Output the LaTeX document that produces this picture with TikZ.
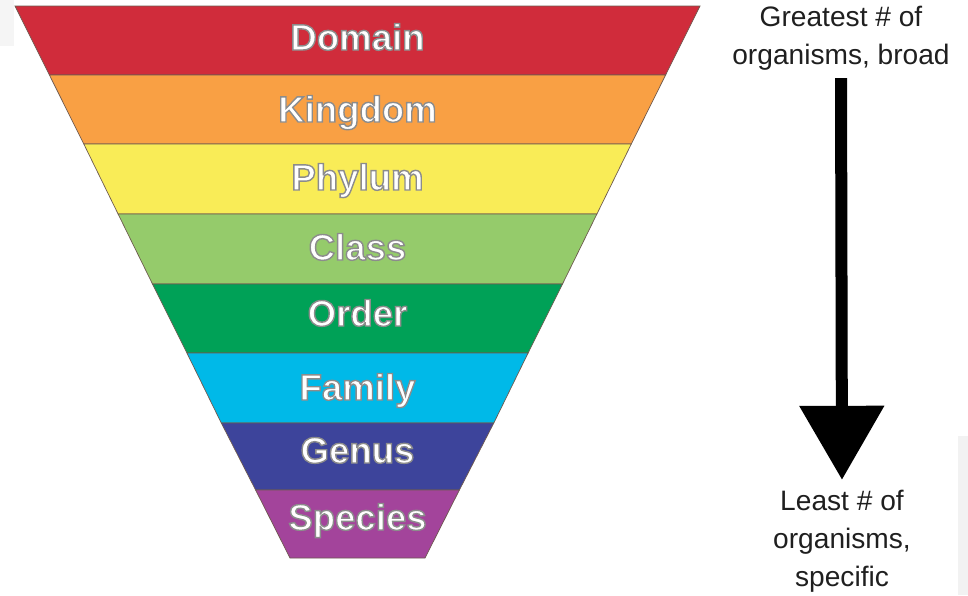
\documentclass[tikz,border=0pt]{standalone}
\usepackage{fontspec}
\setmainfont{Liberation Sans}
\usetikzlibrary{arrows.meta}

\definecolor{domainred}{HTML}{D02C3B}
\definecolor{kingdomorange}{HTML}{F9A044}
\definecolor{phylumyellow}{HTML}{F9EC57}
\definecolor{classgreen}{HTML}{95CB6B}
\definecolor{ordergreen}{HTML}{00A157}
\definecolor{familycyan}{HTML}{00B9E8}
\definecolor{genusblue}{HTML}{3D449B}
\definecolor{speciespurple}{HTML}{A3449B}
\definecolor{bandedge}{HTML}{6E5A50}

\newcommand{\ranklabel}[1]{{\color{white}\special{pdf:literal direct 2 Tr 1 w 0.55 G}#1\special{pdf:literal direct 0 Tr}}}

\begin{document}
\begin{tikzpicture}[x=0.025cm,y=-0.025cm,
    band/.style={draw=bandedge,line width=0.5pt},
    rank/.style={font=\fontsize{26}{26}\bfseries\selectfont,inner sep=0pt,anchor=base},
    side/.style={font=\fontsize{20}{27}\selectfont,text=black!88,align=center,inner sep=2pt},
    bigarrow/.style={line width=0.3cm,-{Triangle[width=2.05cm,length=1.85cm]}}]
   \useasboundingbox (0,0) rectangle (968,595);
   \fill[black!4] (0,0) rectangle (14,46);
   \fill[black!5] (958,436) rectangle (968,595);

   \filldraw[band,fill=domainred] (15,6) -- (700,6) -- (665.6,75) -- (49.4,75) -- cycle;
   \filldraw[band,fill=kingdomorange] (49.4,75) -- (665.6,75) -- (631.3,144) -- (83.8,144) -- cycle;
   \filldraw[band,fill=phylumyellow] (83.8,144) -- (631.3,144) -- (596.9,214) -- (118.1,214) -- cycle;
   \filldraw[band,fill=classgreen] (118.1,214) -- (596.9,214) -- (562.5,284) -- (152.5,284) -- cycle;
   \filldraw[band,fill=ordergreen] (152.5,284) -- (562.5,284) -- (528.1,353) -- (186.9,353) -- cycle;
   \filldraw[band,fill=familycyan] (186.9,353) -- (528.1,353) -- (493.8,423) -- (221.3,423) -- cycle;
   \filldraw[band,fill=genusblue] (221.3,423) -- (493.8,423) -- (459.4,490) -- (255.6,490) -- cycle;
   \filldraw[band,fill=speciespurple] (255.6,490) -- (459.4,490) -- (425,558) -- (290,558) -- cycle;

   \node[rank] (domain) at (357.5,50) {\ranklabel{Domain}};
   \node[rank] (kingdom) at (357.5,122) {\ranklabel{Kingdom}};
   \node[rank] (phylum) at (357.5,190) {\ranklabel{Phylum}};
   \node[rank] (class) at (357.5,260) {\ranklabel{Class}};
   \node[rank] (order) at (357.5,326) {\ranklabel{Order}};
   \node[rank] (family) at (357.5,400) {\ranklabel{Family}};
   \node[rank] (genus) at (357.5,463) {\ranklabel{Genus}};
   \node[rank] (species) at (357.5,530) {\ranklabel{Species}};

   \node[side] (broad) at (841,38) {Greatest \# of\\organisms, broad};
   \node[side] (specific) at (842,541) {Least \# of\\organisms,\\specific};

   \draw[bigarrow,shorten <=3.5pt,shorten >=5pt] (broad.south) -- (specific.north);
\end{tikzpicture}
\end{document}
